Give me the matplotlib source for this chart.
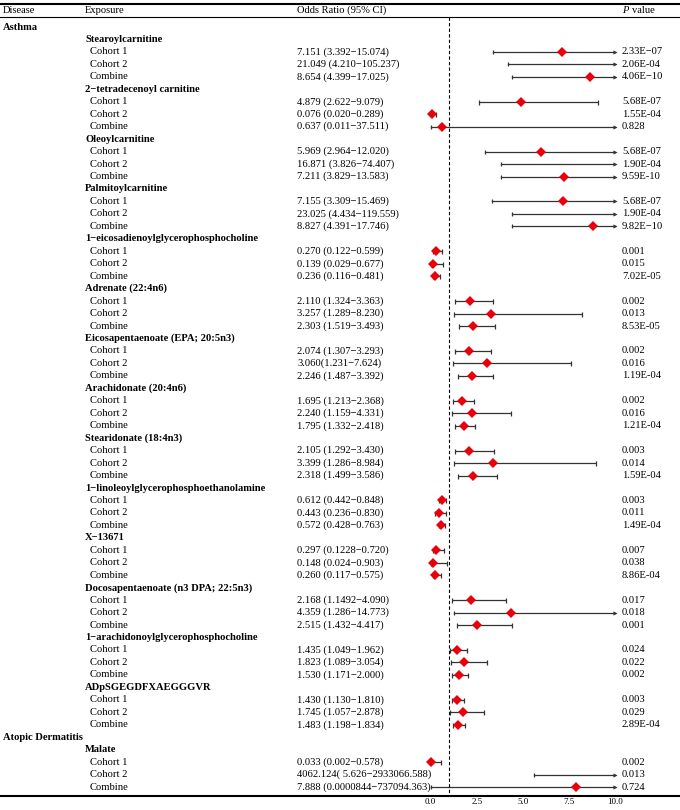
import numpy as np
import matplotlib.pyplot as plt

plt.rcParams['font.family'] = ['Liberation Serif', 'DejaVu Serif']

# exposures, grouped by disease
asthma_exposures = ["Stearoylcarnitine", "2\u2212tetradecenoyl carnitine", "Oleoylcarnitine",
                    "Palmitoylcarnitine", "1\u2212eicosadienoylglycerophosphocholine",
                    "Adrenate (22:4n6)", "Eicosapentaenoate (EPA; 20:5n3)", "Arachidonate (20:4n6)",
                    "Stearidonate (18:4n3)", "1\u2212linoleoylglycerophosphoethanolamine", "X\u221213671",
                    "Docosapentaenoate (n3 DPA; 22:5n3)", "1\u2212arachidonoylglycerophosphocholine",
                    "ADpSGEGDFXAEGGGVR"]
ad_exposures = ["Malate"]
cohorts = ["Cohort 1", "Cohort 2", "Combine"]

# odds ratios and 95% CI, 3 rows (cohort 1, cohort 2, combine) per exposure
odds = [7.151, 21.049, 8.654,
        4.879, 0.076, 0.637,
        5.969, 16.871, 7.211,
        7.155, 23.025, 8.827,
        0.270, 0.139, 0.236,
        2.110, 3.257, 2.303,
        2.074, 3.060, 2.246,
        1.695, 2.240, 1.795,
        2.105, 3.399, 2.318,
        0.612, 0.443, 0.572,
        0.297, 0.148, 0.260,
        2.168, 4.359, 2.515,
        1.435, 1.823, 1.530,
        1.430, 1.745, 1.483,
        0.033, 4062.124, 7.888]
ci_low = [3.392, 4.210, 4.399,
          2.622, 0.020, 0.011,
          2.964, 3.826, 3.829,
          3.309, 4.434, 4.391,
          0.122, 0.029, 0.116,
          1.324, 1.289, 1.519,
          1.307, 1.231, 1.487,
          1.213, 1.159, 1.332,
          1.292, 1.286, 1.499,
          0.442, 0.236, 0.428,
          0.1228, 0.024, 0.117,
          1.1492, 1.286, 1.432,
          1.049, 1.089, 1.171,
          1.130, 1.057, 1.198,
          0.002, 5.626, 0.0000844]
ci_high = [15.074, 105.237, 17.025,
           9.079, 0.289, 37.511,
           12.020, 74.407, 13.583,
           15.469, 119.559, 17.746,
           0.599, 0.677, 0.481,
           3.363, 8.230, 3.493,
           3.293, 7.624, 3.392,
           2.368, 4.331, 2.418,
           3.430, 8.984, 3.586,
           0.848, 0.830, 0.763,
           0.720, 0.903, 0.575,
           4.090, 14.773, 4.417,
           1.962, 3.054, 2.000,
           1.810, 2.878, 1.834,
           0.578, 2933066.588, 737094.363]
or_labels = ["7.151 (3.392\u221215.074)", "21.049 (4.210\u2212105.237)", "8.654 (4.399\u221217.025)",
             "4.879 (2.622\u22129.079)", "0.076 (0.020\u22120.289)", "0.637 (0.011\u221237.511)",
             "5.969 (2.964\u221212.020)", "16.871 (3.826\u221274.407)", "7.211 (3.829\u221213.583)",
             "7.155 (3.309\u221215.469)", "23.025 (4.434\u2212119.559)", "8.827 (4.391\u221217.746)",
             "0.270 (0.122\u22120.599)", "0.139 (0.029\u22120.677)", "0.236 (0.116\u22120.481)",
             "2.110 (1.324\u22123.363)", "3.257 (1.289\u22128.230)", "2.303 (1.519\u22123.493)",
             "2.074 (1.307\u22123.293)", "3.060(1.231\u22127.624)", "2.246 (1.487\u22123.392)",
             "1.695 (1.213\u22122.368)", "2.240 (1.159\u22124.331)", "1.795 (1.332\u22122.418)",
             "2.105 (1.292\u22123.430)", "3.399 (1.286\u22128.984)", "2.318 (1.499\u22123.586)",
             "0.612 (0.442\u22120.848)", "0.443 (0.236\u22120.830)", "0.572 (0.428\u22120.763)",
             "0.297 (0.1228\u22120.720)", "0.148 (0.024\u22120.903)", "0.260 (0.117\u22120.575)",
             "2.168 (1.1492\u22124.090)", "4.359 (1.286\u221214.773)", "2.515 (1.432\u22124.417)",
             "1.435 (1.049\u22121.962)", "1.823 (1.089\u22123.054)", "1.530 (1.171\u22122.000)",
             "1.430 (1.130\u22121.810)", "1.745 (1.057\u22122.878)", "1.483 (1.198\u22121.834)",
             "0.033 (0.002\u22120.578)", "4062.124( 5.626\u22122933066.588)", "7.888 (0.0000844\u2212737094.363)"]
p_labels = ["2.33E\u221207", "2.06E-04", "4.06E\u221210",
            "5.68E-07", "1.55E-04", "0.828",
            "5.68E-07", "1.90E-04", "9.59E-10",
            "5.68E-07", "1.90E-04", "9.82E\u221210",
            "0.001", "0.015", "7.02E-05",
            "0.002", "0.013", "8.53E-05",
            "0.002", "0.016", "1.19E-04",
            "0.002", "0.016", "1.21E-04",
            "0.003", "0.014", "1.59E-04",
            "0.003", "0.011", "1.49E-04",
            "0.007", "0.038", "8.86E-04",
            "0.017", "0.018", "0.001",
            "0.024", "0.022", "0.002",
            "0.003", "0.029", "2.89E-04",
            "0.002", "0.013", "0.724"]
x_max = 10.0
xticks = [0.0, 2.5, 5.0, 7.5, 10.0]

# ---- layout (pixel based) ----
W, H = 680, 810
x0_px, unit_px = 430.7, 18.43
first_row, row_h = 27.0, 12.46
fs = 7.6


def px(x):
    return (x - x0_px) / unit_px


fig = plt.figure(figsize=(W / 100, H / 100), dpi=100)
ax = fig.add_axes([0, 14 / H, 1, 796 / H])
ax.set_xlim(px(0), px(W))
ax.set_ylim(796, 0)

# build row list
rows = []
rows.append(("disease", "Asthma"))
for ex in asthma_exposures:
    rows.append(("exposure", ex))
    for c in cohorts:
        rows.append(("cohort", c))
rows.append(("disease", "Atopic Dermatitis"))
for ex in ad_exposures:
    rows.append(("exposure", ex))
    for c in cohorts:
        rows.append(("cohort", c))

k = 0
for i, (kind, label) in enumerate(rows):
    y = first_row + i * row_h
    if kind == "disease":
        ax.text(px(3), y, label, fontsize=fs, fontweight='bold', va='center')
    elif kind == "exposure":
        ax.text(px(85), y, label, fontsize=fs, fontweight='bold', va='center')
    else:
        ax.text(px(90), y, label, fontsize=fs, va='center')
        ax.text(px(297), y, or_labels[k], fontsize=fs, va='center')
        ax.text(px(622), y, p_labels[k], fontsize=fs, va='center')
        lo, hi, o = ci_low[k], ci_high[k], odds[k]
        lo_c = max(lo, 0)
        if hi > x_max:
            ax.plot([lo_c, x_max], [y, y], color='#333333', lw=0.9)
            ax.plot([lo_c], [y], marker='|', color='#333333', ms=3.5, mew=0.9)
            ax.plot([x_max], [y], marker='>', color='#333333', ms=3, mew=0)
        else:
            ax.errorbar(o, y, xerr=[[o - lo], [hi - o]], fmt='none', ecolor='#333333',
                        elinewidth=0.9, capsize=1.8, capthick=0.9)
        if o <= x_max:
            ax.plot(o, y, marker='D', color='#e8000b', ms=5.2, mew=0, zorder=5)
        k += 1

# header
hy = 10.5
ax.text(px(3), hy, "Disease", fontsize=fs, va='center')
ax.text(px(85), hy, "Exposure", fontsize=fs, va='center')
ax.text(px(297), hy, "Odds Ratio (95% CI)", fontsize=fs, va='center')
ax.text(px(622), hy, "P", fontsize=fs, va='center', style='italic')
ax.text(px(632), hy, "value", fontsize=fs, va='center')

ax.axhline(3.5, color='black', lw=1.5)
ax.axhline(16.5, color='black', lw=0.8)
ax.plot([1, 1], [16.5, 796], color='black', lw=0.8, ls=(0, (3, 2)))

for s in ['left', 'right', 'top']:
    ax.spines[s].set_visible(False)
ax.spines['bottom'].set_linewidth(1.5)
ax.set_yticks([])
ax.set_xticks(xticks)
ax.set_xticklabels([f"{t:.1f}" for t in xticks], fontsize=6.5)
ax.tick_params(axis='x', length=0, pad=1.5)

fig.savefig("out.png", dpi=100)
